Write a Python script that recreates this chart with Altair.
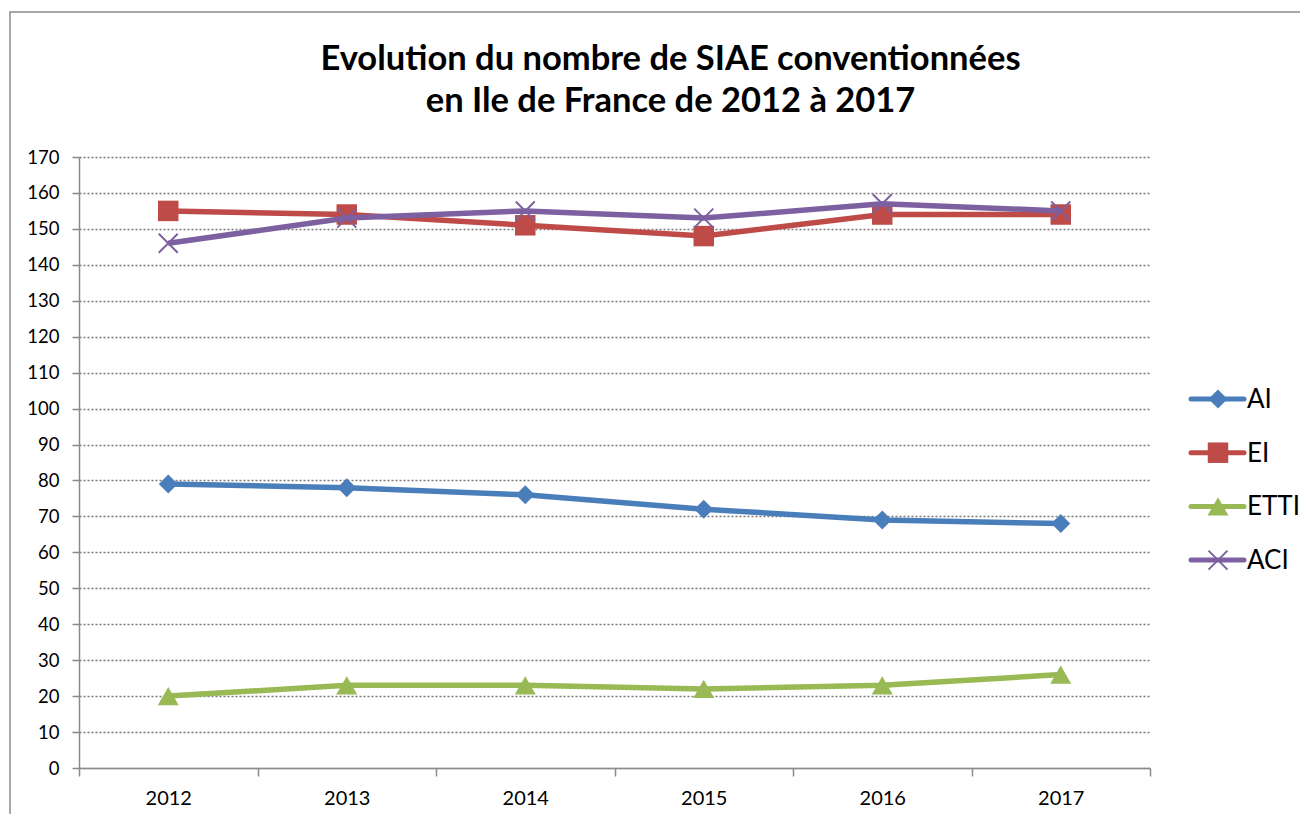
import altair as alt
import pandas as pd

years = ["2012", "2013", "2014", "2015", "2016", "2017"]
series_names = ["AI", "EI", "ETTI", "ACI"]
ai = [79, 78, 76, 72, 69, 68]
ei = [155, 154, 151, 148, 154, 154]
etti = [20, 23, 23, 22, 23, 26]
aci = [146, 153, 155, 153, 157, 155]
y_ticks = list(range(0, 171, 10))
title_lines = ["Evolution du nombre de SIAE conventionnées", "en Ile de France de 2012 à 2017"]

colors = ["#4A7EBB", "#BE4B48", "#98B954", "#7D60A0"]
xpath = "M-1,-1L1,1M-1,1L1,-1"
shapes = ["diamond", "square", "triangle-up", xpath]
sizes = [360, 420, 440, 360]

values = [ai, ei, etti, aci]
rows = []
for name, vals in zip(series_names, values):
    for yr, v in zip(years, vals):
        rows.append({"year": yr, "value": v, "series": name})
df = pd.DataFrame(rows)
leg_df = pd.DataFrame({"series": series_names})
title_df = pd.DataFrame({"line": title_lines, "idx": [0, 1]})

W, H = 1071, 611

x_enc = alt.X("year:N", scale=alt.Scale(type="band", domain=years, paddingInner=0, paddingOuter=0),
              bandPosition=0.5,
              axis=alt.Axis(title=None, labelAngle=0, tickBand="extent", grid=False,
                            labelFontSize=20, labelPadding=12, tickSize=8))
y_enc = alt.Y("value:Q", scale=alt.Scale(domain=[0, 170], nice=False, zero=True),
              axis=alt.Axis(title=None, values=y_ticks, grid=True, labelFontSize=18.5,
                            labelPadding=13, tickSize=7, gridDash=[2, 2]))

layers = []
# outer border
border = alt.Chart(pd.DataFrame({"a": [0]})).mark_rect(
    fillOpacity=0, stroke="#8a8a8a", strokeWidth=1.5
).encode(x=alt.value(-69), x2=alt.value(W + 160), y=alt.value(-145), y2=alt.value(H + 80))
layers.append(border)

# title as text
for i, line in enumerate(title_lines):
    t = alt.Chart(title_df).transform_filter(alt.datum.idx == i).mark_text(
        align="center", baseline="alphabetic", fontSize=34.5, font="Lato", fontWeight="bold", color="black"
    ).encode(x=alt.value(W / 2 + 56), y=alt.value(-87 + i * 42), text="line:N")
    layers.append(t)

for i, name in enumerate(series_names):
    base = alt.Chart(df).transform_filter(alt.datum.series == name)
    line = base.mark_line(color=colors[i], strokeWidth=5.5).encode(x=x_enc, y=y_enc)
    if name == "ACI":
        pts = base.mark_point(shape=xpath, filled=False, stroke=colors[i], strokeWidth=2, size=sizes[i], opacity=1).encode(x=x_enc, y=y_enc)
    else:
        pts = base.mark_point(shape=shapes[i], filled=True, color=colors[i], size=sizes[i], opacity=1).encode(x=x_enc, y=y_enc)
    layers += [line, pts]

# legend
leg_y0, leg_dy = 242, 53.7
for i, name in enumerate(series_names):
    lb = alt.Chart(leg_df).transform_filter(alt.datum.series == name)
    yy = leg_y0 + i * leg_dy
    rule = lb.mark_rule(color=colors[i], strokeWidth=5, strokeCap="round").encode(
        x=alt.value(W + 41), x2=alt.value(W + 94), y=alt.value(yy))
    if name == "ACI":
        sym = lb.mark_point(shape=xpath, filled=False, stroke=colors[i], strokeWidth=2, size=sizes[i], opacity=1).encode(
            x=alt.value(W + 68), y=alt.value(yy))
    else:
        sym = lb.mark_point(shape=shapes[i], filled=True, color=colors[i], size=sizes[i], opacity=1).encode(
            x=alt.value(W + 68), y=alt.value(yy))
    txt = lb.mark_text(align="left", baseline="middle", fontSize=26, font="Lato", color="black").encode(
        x=alt.value(W + 97), y=alt.value(yy + 1), text="series:N")
    layers += [rule, sym, txt]

chart = alt.layer(*layers).properties(
    width=W, height=H,
    autosize=alt.AutoSizeParams(type="none"),
    padding={"left": 71, "top": 149, "right": 150, "bottom": 46},
).configure_view(stroke=None).configure_axis(
    labelFont="Lato", labelColor="black", domainColor="#8a8a8a", domainWidth=1.5,
    tickColor="#8a8a8a", tickWidth=1.5, gridColor="#7a7a7a", gridWidth=1.3
)

chart.save("out.html", embed_options={"renderer": "svg", "actions": False})
